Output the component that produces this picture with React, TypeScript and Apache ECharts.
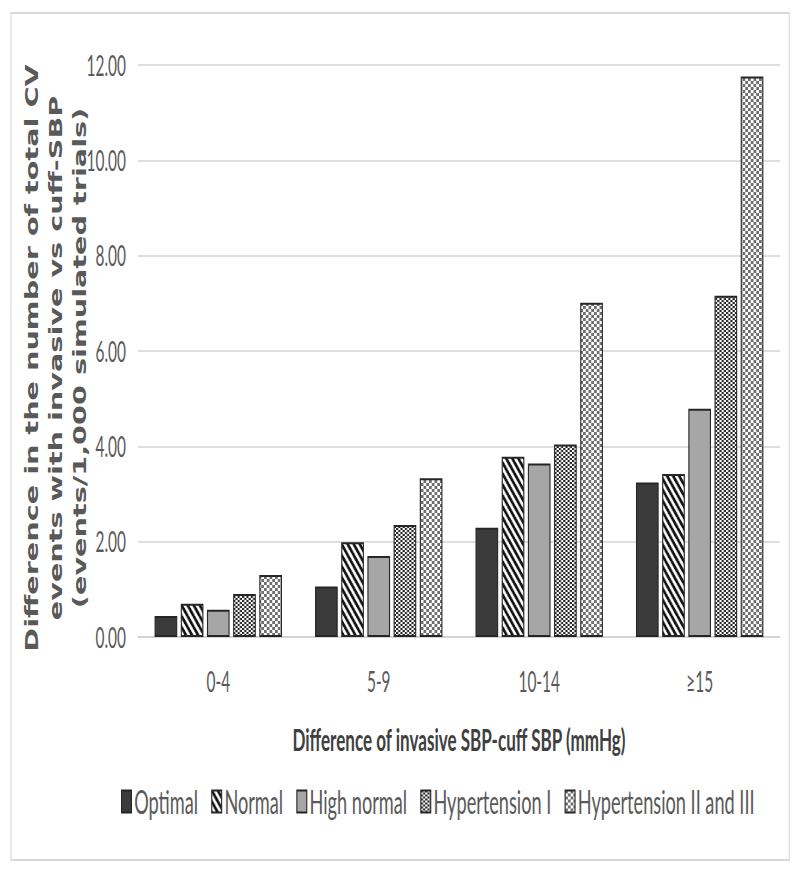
import React, { useEffect, useRef } from "react";
import * as echarts from "echarts";

const categories = ["0-4", "5-9", "10-14", "≥15"];
const seriesNames = ["Optimal", "Normal", "High normal", "Hypertension I", "Hypertension II and III"];
const optimal = [0.44, 1.06, 2.29, 3.24];
const normal = [0.7, 1.99, 3.78, 3.42];
const highNormal = [0.57, 1.7, 3.64, 4.79];
const hypertension1 = [0.9, 2.35, 4.04, 7.16];
const hypertension23 = [1.3, 3.33, 7.01, 11.76];
const yTicks = [0, 2, 4, 6, 8, 10, 12];

const S = 0.55; // horizontal squeeze of the reference picture
const W = Math.round(800 / S);
const H = 873;

function makeCanvas(w: number, h: number) {
  const c = document.createElement("canvas");
  c.width = w;
  c.height = h;
  return c;
}

function stripes() {
  const p = 11;
  const c = makeCanvas(p, p);
  const ctx = c.getContext("2d")!;
  ctx.fillStyle = "#ffffff";
  ctx.fillRect(0, 0, p, p);
  ctx.strokeStyle = "#111111";
  ctx.lineWidth = 4;
  ctx.beginPath();
  for (const o of [-p, 0, p]) {
    ctx.moveTo(o - 1, -1);
    ctx.lineTo(o + p + 1, p + 1);
  }
  ctx.stroke();
  return c;
}

function checker(cw: number, ch: number, dark: string, light: string) {
  const c = makeCanvas(cw * 2, ch * 2);
  const ctx = c.getContext("2d")!;
  ctx.fillStyle = light;
  ctx.fillRect(0, 0, cw * 2, ch * 2);
  ctx.fillStyle = dark;
  ctx.fillRect(0, 0, cw, ch);
  ctx.fillRect(cw, ch, cw, ch);
  return c;
}

export default function App() {
  const ref = useRef<HTMLDivElement>(null);
  useEffect(() => {
    if (!ref.current) return;
    const chart = echarts.init(ref.current, null, { renderer: "svg" });
    const fills: any[] = [
      "#3b3b3b",
      { image: stripes(), repeat: "repeat" },
      "#a6a6a6",
      { image: checker(4, 2, "#262626", "#ffffff"), repeat: "repeat" },
      { image: checker(5, 3, "#6e6e6e", "#ffffff"), repeat: "repeat" },
    ];
    const data = [optimal, normal, highNormal, hypertension1, hypertension23];
    const option: any = {
      animation: false,
      backgroundColor: "#ffffff",
      grid: { left: 251, right: 37, top: 65, bottom: H - 637, containLabel: false },
      legend: {
        data: seriesNames,
        bottom: 50,
        left: 215,
        icon: "rect",
        itemWidth: 18,
        itemHeight: 22,
        itemGap: 24,
        textStyle: { fontFamily: "Lato", fontSize: 33, color: "#595959" },
      },
      xAxis: {
        type: "category",
        data: categories,
        axisTick: { show: false },
        axisLine: { lineStyle: { color: "#d4d4d4", width: 2 } },
        axisLabel: { fontFamily: "Lato", fontSize: 28, color: "#595959", margin: 30 },
        name: "Difference of invasive SBP-cuff SBP (mmHg)",
        nameLocation: "middle",
        nameGap: 86,
        nameTextStyle: { fontFamily: "Lato", fontSize: 31, fontWeight: "bold", color: "#404040" },
      },
      yAxis: {
        type: "value",
        min: yTicks[0],
        max: yTicks[yTicks.length - 1],
        interval: 2,
        axisLine: { show: false },
        axisTick: { show: false },
        splitLine: { lineStyle: { color: "#dedede", width: 2 } },
        axisLabel: {
          fontFamily: "Lato",
          fontSize: 28,
          color: "#595959",
          margin: 22,
          formatter: (v: number) => v.toFixed(2),
        },
      },
      graphic: [
        {
          type: "rect",
          shape: { x: 20, y: 13, width: 1415, height: 847 },
          style: { fill: "none", stroke: "#d9d9d9", lineWidth: 2 },
          silent: true,
        },
        {
          type: "text",
          x: 102,
          y: 358,
          rotation: Math.PI / 2,
          scaleX: 0.87,
          scaleY: 1,
          style: {
            text: "Difference in the number of total CV\nevents with invasive vs cuff-SBP\n(events/1,000 simulated trials)",
            fontFamily: "DejaVu Sans",
            fontWeight: "bold",
            fontSize: 33,
            lineHeight: 44,
            fill: "#595959",
            align: "center",
            verticalAlign: "middle",
          },
          silent: true,
        },
      ],
      series: seriesNames.map((name, i) => ({
        name,
        type: "bar",
        data: data[i],
        barGap: "15.5%",
        barCategoryGap: "20.6%",
        itemStyle: { color: fills[i], borderColor: "#262626", borderWidth: 2 },
        emphasis: { disabled: true },
      })),
    };
    chart.setOption(option);
    return () => chart.dispose();
  }, []);
  return (
    <div style={{ position: "fixed", left: 0, top: 0, width: 800, height: H, overflow: "hidden", background: "#fff" }}>
      <div
        ref={ref}
        style={{ width: W, height: H, transform: `scaleX(${S})`, transformOrigin: "0 0" }}
      />
    </div>
  );
}
